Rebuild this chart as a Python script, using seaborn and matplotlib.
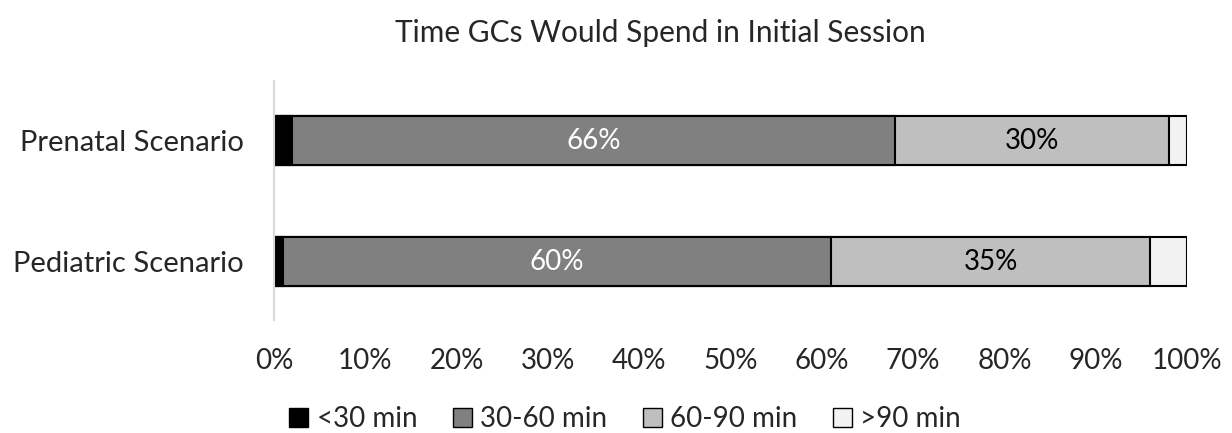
import matplotlib
matplotlib.use("Agg")
import matplotlib.pyplot as plt
import seaborn as sns
import pandas as pd
import numpy as np
from matplotlib.patches import Patch
from matplotlib.ticker import PercentFormatter

sns.set_style("white")
plt.rcParams['font.family'] = ['Lato', 'DejaVu Sans']

categories = ["Prenatal Scenario", "Pediatric Scenario"]
series = ["<30 min", "30-60 min", "60-90 min", ">90 min"]
lt30 = [2, 1]
m30_60 = [66, 60]
m60_90 = [30, 35]
gt90 = [2, 4]
colors = ["#000000", "#808080", "#bfbfbf", "#f2f2f2"]
label_colors = [None, "white", "black", None]

vals = np.array([lt30, m30_60, m60_90, gt90], dtype=float)
cum = np.cumsum(vals, axis=0)

fig = plt.figure(figsize=(12.32, 4.33), dpi=100)
ax = fig.add_axes([274/1232, 1-320/433, (1187-274)/1232, (320-81)/433])

# draw cumulative bars from longest to shortest so they stack
for i in range(len(series) - 1, -1, -1):
    df = pd.DataFrame({"cat": categories, "val": cum[i]})
    sns.barplot(data=df, y="cat", x="val", orient="h", color=colors[i],
                saturation=1, width=0.405, edgecolor="black", linewidth=1.5, ax=ax)

for i, lc in enumerate(label_colors):
    if lc is None:
        continue
    for j in range(len(categories)):
        center = cum[i, j] - vals[i, j] / 2
        ax.text(center, j, f"{int(vals[i, j])}%", ha="center", va="center",
                color=lc, fontsize=20)

ax.set_xlim(0, 100)
ax.set_ylim(1.483, -0.492)
ax.set_xticks(np.arange(0, 101, 10))
ax.xaxis.set_major_formatter(PercentFormatter(decimals=0))
ax.set_xlabel("")
ax.set_ylabel("")
ax.tick_params(axis="both", length=0)
ax.tick_params(axis="y", pad=22, labelsize=21)
ax.tick_params(axis="x", pad=20, labelsize=20)
for s in ["top", "right", "bottom"]:
    ax.spines[s].set_visible(False)
ax.spines["left"].set_color("#d9d9d9")
ax.spines["left"].set_linewidth(1.5)

handles = [Patch(facecolor=c, edgecolor="black", linewidth=1) for c in colors]
fig.legend(handles, series, loc="center", bbox_to_anchor=(625/1232, 1-419/433),
           ncol=4, frameon=False, fontsize=20, handlelength=0.68, handleheight=0.68,
           handletextpad=0.3, columnspacing=1.28, borderpad=0)

fig.text(660/1232, 1-33/433, "Time GCs Would Spend in Initial Session",
         ha="center", va="center", fontsize=21.5)

fig.savefig("out.png", dpi=100)
